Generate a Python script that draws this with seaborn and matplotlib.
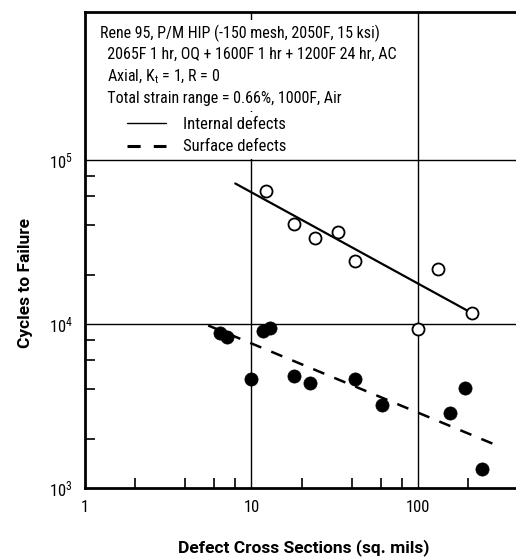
import matplotlib
matplotlib.use("Agg")
import matplotlib.pyplot as plt
import matplotlib.ticker as mticker
from matplotlib import font_manager
from matplotlib.lines import Line2D
import pandas as pd
import seaborn as sns

# Fatigue data: defect cross section (sq. mils) vs cycles to failure
internal_area = [12.2, 18, 24.2, 33, 42, 100, 132, 213]
internal_cycles = [65000, 41000, 33700, 36600, 24400, 9300, 21800, 11700]

surface_area = [6.5, 7.1, 11.7, 12.9, 10, 18, 22.6, 42, 61, 157, 191, 242]
surface_cycles = [8800, 8300, 9100, 9500, 4600, 4800, 4350, 4600, 3200, 2850, 4100, 1310]

# Trend lines (end points)
internal_fit_area = [8.0, 207]
internal_fit_cycles = [72000, 11800]
surface_fit_area = [5.5, 302]
surface_fit_cycles = [9800, 1810]

x_major = [1, 10, 100]
x_major_labels = ["1", "10", "100"]
x_minor = [2, 4, 6, 8, 20, 40, 60, 80, 200, 400]
y_major = [1e3, 1e4, 1e5]
y_major_labels = [r"$10^3$", r"$10^4$", r"$10^5$"]
y_minor = [2e3, 4e3, 6e3, 8e3, 2e4, 4e4, 6e4, 8e4]

header_lines = [
    "Rene 95, P/M HIP (-150 mesh, 2050F, 15 ksi)",
    "  2065F 1 hr, OQ + 1600F 1 hr + 1200F 24 hr, AC",
    r"  Axial, K$_\mathrm{t}$ = 1, R = 0",
    "  Total strain range = 0.66%, 1000F, Air",
]

sns.set_theme(style="white")

# pick a narrow sans face if one is available
installed = {f.name for f in font_manager.fontManager.ttflist}
narrow = next((n for n in ["Roboto Condensed", "Liberation Sans Narrow",
                           "Open Sans Condensed", "Roboto", "Liberation Sans"]
               if n in installed), "DejaVu Sans")
wide = "Roboto" if "Roboto" in installed else "DejaVu Sans"
plt.rcParams["font.family"] = [narrow, "DejaVu Sans"]
plt.rcParams["mathtext.fontset"] = "custom"
plt.rcParams["mathtext.rm"] = narrow
plt.rcParams["mathtext.it"] = narrow
plt.rcParams["mathtext.bf"] = narrow + ":bold"
for key in ["text.color", "axes.labelcolor", "xtick.color", "ytick.color"]:
    plt.rcParams[key] = "black"

fig = plt.figure(figsize=(5.16, 5.60), dpi=100)
ax = fig.add_axes([85 / 516, 72 / 560, 433 / 516, 476 / 560])
ax.set_xscale("log")
ax.set_yscale("log")
ax.set_xlim(1, 400)
ax.set_ylim(1e3, 8e5)

# reference grid lines at decades
for xv in [10, 100]:
    ax.axvline(xv, color="black", lw=1.0, zorder=1)
for yv in [1e4, 1e5]:
    ax.axhline(yv, color="black", lw=1.0, zorder=1)

df_int = pd.DataFrame({"area": internal_area, "cycles": internal_cycles})
df_surf = pd.DataFrame({"area": surface_area, "cycles": surface_cycles})
fit_int = pd.DataFrame({"area": internal_fit_area, "cycles": internal_fit_cycles})
fit_surf = pd.DataFrame({"area": surface_fit_area, "cycles": surface_fit_cycles})

sns.lineplot(data=fit_int, x="area", y="cycles", ax=ax, color="black", lw=1.6,
             zorder=3, legend=False)
sns.lineplot(data=fit_surf, x="area", y="cycles", ax=ax, color="black", lw=1.8,
             zorder=3, legend=False)
ax.lines[-1].set_dashes((4.8, 4.3))

sns.scatterplot(data=df_int, x="area", y="cycles", ax=ax, marker="o", s=75,
                facecolor="white", edgecolor="black", linewidth=1.3, zorder=4)
sns.scatterplot(data=df_surf, x="area", y="cycles", ax=ax, marker="o", s=90,
                color="black", edgecolor="black", linewidth=0.5, zorder=4)

# spines
for side in ["left", "bottom", "top"]:
    ax.spines[side].set_color("black")
    ax.spines[side].set_linewidth(2.0)
ax.spines["right"].set_visible(False)

# ticks
ax.xaxis.set_major_locator(mticker.FixedLocator(x_major))
ax.xaxis.set_major_formatter(mticker.FixedFormatter(x_major_labels))
ax.xaxis.set_minor_locator(mticker.FixedLocator(x_minor))
ax.xaxis.set_minor_formatter(mticker.NullFormatter())
ax.yaxis.set_major_locator(mticker.FixedLocator(y_major))
ax.yaxis.set_major_formatter(mticker.FixedFormatter(y_major_labels))
ax.yaxis.set_minor_locator(mticker.FixedLocator(y_minor))
ax.yaxis.set_minor_formatter(mticker.NullFormatter())
ax.tick_params(which="major", length=0, labelsize=12, colors="black", pad=9)
ax.tick_params(axis="y", which="major", pad=9)
ax.tick_params(which="minor", direction="in", length=7, width=1.2, color="black",
               bottom=True, left=True, top=False, right=False)

ax.set_xlabel("Defect Cross Sections (sq. mils)", fontsize=12.5,
              fontweight="bold", family=[wide, "DejaVu Sans"])
ax.set_ylabel("Cycles to Failure", fontsize=12.5, fontweight="bold",
              family=[wide, "DejaVu Sans"])
ax.xaxis.set_label_coords(0.505, -0.108)
ax.yaxis.set_label_coords(-0.12, 0.43)

# header block
ax.text(0.035, 0.973, "\n".join(header_lines), transform=ax.transAxes,
        ha="left", va="top", fontsize=11.5, linespacing=1.42, zorder=5,
        bbox=dict(facecolor="white", edgecolor="none", pad=3))

handles = [
    Line2D([], [], color="black", lw=1.0, ls="-"),
    Line2D([], [], color="black", lw=2.2, dashes=(4.3, 4.3)),
]
leg = ax.legend(handles, ["Internal defects", "Surface defects"],
                loc="upper left", bbox_to_anchor=(0.085, 0.79), frameon=True,
                framealpha=1.0, fancybox=False,
                fontsize=12, handlelength=2.35, handletextpad=1.0,
                labelspacing=0.45, borderpad=0.3, borderaxespad=0)
leg.get_frame().set_facecolor("white")
leg.get_frame().set_edgecolor("none")
leg.set_zorder(5)

fig.savefig("out.png", dpi=100, facecolor="white")
